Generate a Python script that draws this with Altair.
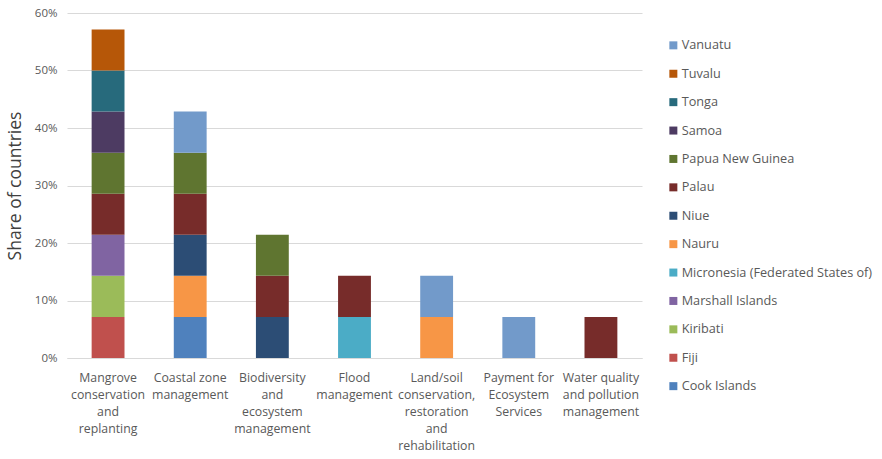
import altair as alt
import pandas as pd

categories = [
    "Mangrove|conservation|and|replanting",
    "Coastal zone|management",
    "Biodiversity|and|ecosystem|management",
    "Flood|management",
    "Land/soil|conservation,|restoration|and|rehabilitation",
    "Payment for|Ecosystem|Services",
    "Water quality|and pollution|management",
]

countries = [
    "Cook Islands", "Fiji", "Kiribati", "Marshall Islands",
    "Micronesia (Federated States of)", "Nauru", "Niue", "Palau",
    "Papua New Guinea", "Samoa", "Tonga", "Tuvalu", "Vanuatu",
]

colors = [
    "#4F81BD", "#C0504D", "#9BBB59", "#8064A2", "#4BACC6", "#F79646",
    "#2C4D75", "#772C2A", "#5F7530", "#4D3B62", "#276A7C", "#B65708", "#729ACA",
]

# share of countries (each country = 1/14 of the 14 countries)
share = 1 / 14
membership = {
    "Mangrove|conservation|and|replanting": ["Fiji", "Kiribati", "Marshall Islands", "Palau",
                                             "Papua New Guinea", "Samoa", "Tonga", "Tuvalu"],
    "Coastal zone|management": ["Cook Islands", "Nauru", "Niue", "Palau", "Papua New Guinea", "Vanuatu"],
    "Biodiversity|and|ecosystem|management": ["Niue", "Palau", "Papua New Guinea"],
    "Flood|management": ["Micronesia (Federated States of)", "Palau"],
    "Land/soil|conservation,|restoration|and|rehabilitation": ["Nauru", "Vanuatu"],
    "Payment for|Ecosystem|Services": ["Vanuatu"],
    "Water quality|and pollution|management": ["Palau"],
}

rows = []
for c in categories:
    for k in membership[c]:
        rows.append({"category": c, "country": k, "value": share, "order": countries.index(k)})
df = pd.DataFrame(rows)

font = "Open Sans"

chart = alt.Chart(df).mark_bar().encode(
    x=alt.X("category:N", sort=categories,
            scale=alt.Scale(paddingInner=0.6, paddingOuter=0.3),
            axis=alt.Axis(title=None, labelAngle=0, labelExpr="split(datum.label, '|')",
                          labelFont=font, labelFontSize=12.3, labelColor="#595959",
                          labelLineHeight=17, labelPadding=13, ticks=False,
                          domainColor="#D9D9D9", labelLimit=200)),
    y=alt.Y("sum(value):Q",
            scale=alt.Scale(domain=[0, 0.6]),
            axis=alt.Axis(title="Share of countries", format=".0%", values=[0, 0.1, 0.2, 0.3, 0.4, 0.5, 0.6],
                          labelFont=font, labelFontSize=11.5, labelColor="#595959",
                          titleFont=font, titleFontSize=17.5, titleFontWeight="normal",
                          titleColor="#404040", titlePadding=10,
                          domain=False, ticks=False, gridColor="#D9D9D9", labelPadding=10)),
    color=alt.Color("country:N",
                    scale=alt.Scale(domain=countries[::-1], range=colors[::-1]),
                    legend=alt.Legend(title=None, orient="none", legendX=600, legendY=26,
                                      symbolType="square", symbolSize=64, symbolStrokeWidth=0,
                                      labelFont=font, labelFontSize=12.7, labelColor="#595959",
                                      rowPadding=14.4, direction="vertical",
                                      labelLimit=300, symbolOffset=0, labelOffset=2)),
    order=alt.Order("order:Q", sort="ascending"),
).properties(
    width=575, height=345,
    autosize=alt.AutoSizeParams(type="none"),
    padding={"left": 67, "top": 13, "right": 240, "bottom": 101},
).configure(background="white").configure_view(strokeWidth=0)

chart.save("out.html", embed_options={"renderer": "svg", "actions": False})
